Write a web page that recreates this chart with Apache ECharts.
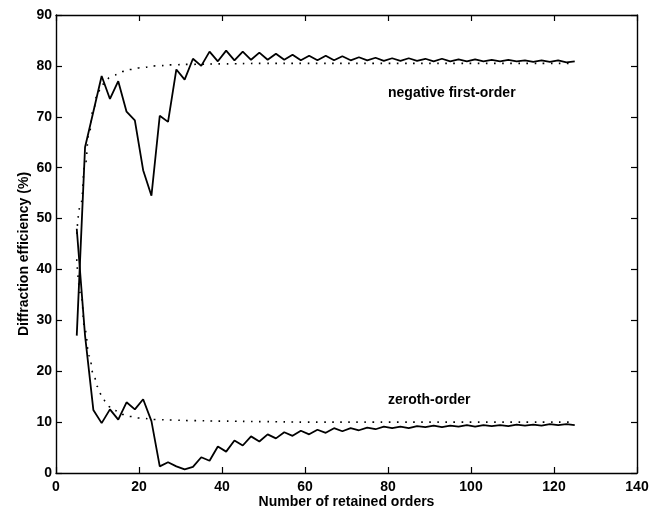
<!DOCTYPE html>
<html lang="en">
<head>
    <meta charset="UTF-8">
    <title>Diffraction efficiency</title>
    <script src="https://cdn.jsdelivr.net/npm/echarts@6.0.0/dist/echarts.min.js"></script>
    <style>
        html, body { margin: 0; padding: 0; background: #fff; }
    </style>
</head>
<body>
<div id="main" style="width: 665px;height:514px;"></div>
<script type="text/javascript">
    // number of retained orders (computed points)
    var orders = [5, 7, 9, 11, 13, 15, 17, 19, 21, 23, 25, 27, 29, 31, 33, 35, 37, 39, 41, 43,
        45, 47, 49, 51, 53, 55, 57, 59, 61, 63, 65, 67, 69, 71, 73, 75, 77, 79, 81, 83,
        85, 87, 89, 91, 93, 95, 97, 99, 101, 103, 105, 107, 109, 111, 113, 115, 117, 119, 121, 123, 125];

    // negative first-order efficiency (%)
    var firstOrder = [27, 64, 71, 78, 73.5, 77, 71, 69.3, 59.5, 54.5, 70.2, 69, 79.3, 77.3, 81.4, 80.0, 82.8, 80.9, 83.0, 81.1,
        82.8, 81.2, 82.6, 81.2, 82.4, 81.2, 82.2, 81.1, 82.0, 81.1, 82.0, 81.1, 81.9, 81.1, 81.7, 81.1, 81.6, 81.0, 81.5, 81.0,
        81.5, 81.0, 81.4, 80.9, 81.4, 80.9, 81.3, 80.9, 81.3, 80.9, 81.2, 80.9, 81.2, 80.9, 81.1, 80.8, 81.1, 80.8, 81.1, 80.7, 80.9];

    // zeroth-order efficiency (%)
    var zerothOrder = [48, 27, 12.4, 9.8, 12.5, 10.5, 13.9, 12.5, 14.5, 10.2, 1.3, 2.1, 1.3, 0.7, 1.2, 3.1, 2.4, 5.2, 4.2, 6.4,
        5.4, 7.2, 6.2, 7.6, 6.8, 8.0, 7.3, 8.3, 7.6, 8.5, 7.9, 8.8, 8.2, 8.8, 8.4, 8.9, 8.6, 9.1, 8.8, 9.1,
        8.8, 9.2, 9.0, 9.3, 9.0, 9.3, 9.1, 9.4, 9.1, 9.4, 9.2, 9.4, 9.2, 9.5, 9.3, 9.5, 9.3, 9.6, 9.4, 9.6, 9.4];

    // dotted reference curves
    var fitX = [5, 6, 7, 8, 9, 10, 11, 12, 13, 14, 16, 18, 20, 24, 28, 32, 40, 50, 60, 80, 100, 125];
    var fitFirst = [47, 53, 60.5, 67, 71.5, 74.5, 76.2, 77.1, 77.7, 78.2, 78.9, 79.3, 79.6, 80.0, 80.2, 80.3, 80.4, 80.5, 80.5, 80.5, 80.5, 80.5];
    var fitZeroth = [42, 35, 28, 23, 19.5, 17, 15.3, 14, 13, 12.3, 11.5, 11.1, 10.8, 10.5, 10.4, 10.3, 10.2, 10.1, 10.0, 10.0, 10.0, 10.0];

    function pairs(xs, ys) {
        var out = [];
        for (var i = 0; i < xs.length; i++) {
            out.push([xs[i], ys[i]]);
        }
        return out;
    }

    var font = 'Liberation Sans, Arial, Helvetica, sans-serif';

    // matlab style box: ticks point into the plot on all four sides
    function axisLine() {
        return {show: true, onZero: false, lineStyle: {color: '#000', width: 1.4}};
    }
    function tick() {
        return {show: true, inside: true, length: 6, lineStyle: {color: '#000', width: 1.2}};
    }
    var labelStyle = {color: '#000', fontSize: 14, fontWeight: 'bold', fontFamily: font};

    var myChart = echarts.init(document.getElementById('main'));
    var option = {
        animation: false,
        backgroundColor: '#fff',
        grid: {left: 56, right: 28, top: 15, bottom: 39},
        xAxis: [
            {
                type: 'value', min: 0, max: 140, interval: 20,
                name: 'Number of retained orders', nameLocation: 'middle', nameGap: 22,
                nameMoveOverlap: false,
                nameTextStyle: labelStyle,
                axisLine: axisLine(), axisTick: tick(),
                axisLabel: {color: '#000', fontSize: 14, fontWeight: 'bold', fontFamily: font, margin: 7},
                splitLine: {show: false}
            },
            {
                type: 'value', position: 'top', min: 0, max: 140, interval: 20,
                axisLine: axisLine(), axisTick: tick(), axisLabel: {show: false}, splitLine: {show: false}
            }
        ],
        yAxis: [
            {
                type: 'value', min: 0, max: 90, interval: 10,
                name: 'Diffraction efficiency (%)', nameLocation: 'middle', nameGap: 25,
                nameMoveOverlap: false,
                nameTextStyle: {color: '#000', fontSize: 14, fontWeight: 'bold', fontFamily: font, padding: [0, 20, 0, 0]},
                axisLine: axisLine(), axisTick: tick(),
                axisLabel: {color: '#000', fontSize: 14, fontWeight: 'bold', fontFamily: font, margin: 4},
                splitLine: {show: false}
            },
            {
                type: 'value', position: 'right', min: 0, max: 90, interval: 10,
                axisLine: axisLine(), axisTick: tick(), axisLabel: {show: false}, splitLine: {show: false}
            }
        ],
        graphic: [
            {type: 'text', left: 388, top: 86, style: {text: 'negative first-order', fill: '#000', font: 'bold 14px ' + font}},
            {type: 'text', left: 388, top: 393, style: {text: 'zeroth-order', fill: '#000', font: 'bold 14px ' + font}}
        ],
        series: [
            {
                type: 'line', data: pairs(fitX, fitFirst), smooth: true, smoothMonotone: 'x', showSymbol: false,
                lineStyle: {color: '#000', width: 1.6, type: [1.6, 6.5]}
            },
            {
                type: 'line', data: pairs(fitX, fitZeroth), smooth: true, smoothMonotone: 'x', showSymbol: false,
                lineStyle: {color: '#000', width: 1.6, type: [1.6, 6.5]}
            },
            {
                type: 'line', data: pairs(orders, firstOrder), showSymbol: false,
                lineStyle: {color: '#000', width: 1.8}
            },
            {
                type: 'line', data: pairs(orders, zerothOrder), showSymbol: false,
                lineStyle: {color: '#000', width: 1.8}
            }
        ]
    };
    myChart.setOption(option);
</script>
</body>
</html>
